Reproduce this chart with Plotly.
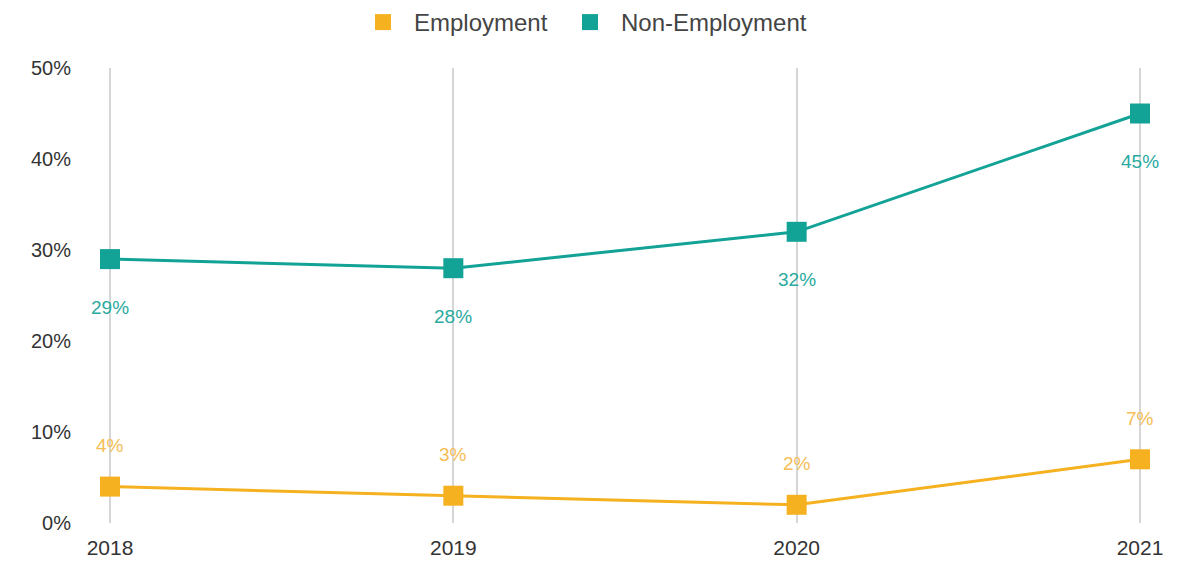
import plotly.graph_objects as go

years = [2018, 2019, 2020, 2021]
employment = [0.04, 0.03, 0.02, 0.07]
non_employment = [0.29, 0.28, 0.32, 0.45]
y_ticks = [0, 0.1, 0.2, 0.3, 0.4, 0.5]
y_tick_labels = ["0%", "10%", "20%", "30%", "40%", "50%"]

ORANGE = "#F5B120"
TEAL = "#12A296"
FONT = "Liberation Sans, Arial, sans-serif"

fig = go.Figure()
series = [("Employment", employment, ORANGE, "legend"),
          ("Non-Employment", non_employment, TEAL, "legend2")]
for name, vals, col, lg in series:
    fig.add_trace(go.Scatter(x=years, y=vals, mode="lines+markers", name=name,
                             line=dict(color=col, width=3),
                             marker=dict(symbol="square", size=20, color=col),
                             showlegend=False, hoverinfo="skip"))
    fig.add_trace(go.Scatter(x=[None], y=[None], mode="markers", name=name,
                             marker=dict(symbol="square", size=16, color=col),
                             showlegend=True, legend=lg))

for x, v in zip(years, employment):
    fig.add_annotation(x=x, y=v, text=f"{round(v*100)}%", showarrow=False,
                       yshift=41, font=dict(size=19, color="#F5BD55", family=FONT))
for x, v in zip(years, non_employment):
    fig.add_annotation(x=x, y=v, text=f"{round(v*100)}%", showarrow=False,
                       yshift=-48, font=dict(size=19, color="#2AAAA0", family=FONT))

legend_common = dict(orientation="h", xanchor="left", y=1.0, yanchor="top",
                     yref="container", font=dict(size=24, color="#444444"),
                     itemsizing="trace", itemwidth=52, bgcolor="rgba(0,0,0,0)")

fig.update_layout(
    width=1189, height=563,
    margin=dict(l=80, r=20, t=68, b=40),
    plot_bgcolor="white", paper_bgcolor="white",
    font=dict(family=FONT, size=20, color="#333333"),
    legend=dict(x=(352 - 80) / 1089, **legend_common),
    legend2=dict(x=(559 - 80) / 1089, **legend_common),
    xaxis=dict(range=[2017.9126, 2021.0845], tickvals=years, ticktext=[str(y) for y in years],
               showgrid=True, gridcolor="#D6D6D6", gridwidth=2, zeroline=False,
               showline=False, ticks="", tickfont=dict(size=21), ticklabelstandoff=10,
               automargin=False),
    yaxis=dict(range=[0, 0.5], tickvals=y_ticks, ticktext=y_tick_labels,
               showgrid=False, zeroline=False, showline=False, ticks="",
               tickfont=dict(size=20), ticklabelstandoff=8, automargin=False),
)

fig.write_html("out.html")
